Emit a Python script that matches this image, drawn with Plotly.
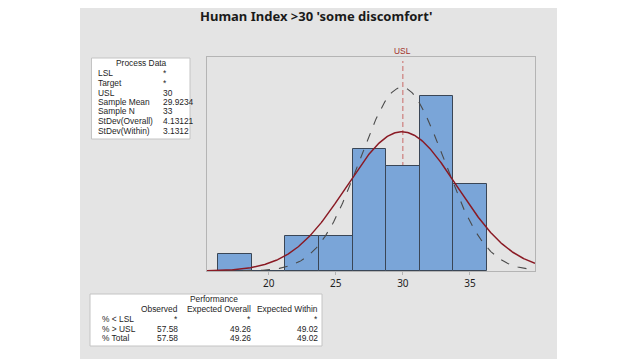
import numpy as np
import plotly.graph_objects as go

# ---- data ----
bin_centers = [17.5, 20.0, 22.5, 25.0, 27.5, 30.0, 32.5, 35.0]
bin_counts = [1, 0, 2, 2, 7, 6, 10, 5]
bin_width = 2.5
usl = 30
sample_mean = 29.9234
sample_n = 33
sd_overall = 4.13121
sd_within = 3.1312
x_ticks = [20, 25, 30, 35]

proc_labels = ["LSL", "Target", "USL", "Sample Mean", "Sample N", "StDev(Overall)", "StDev(Within)"]
proc_values = ["*", "*", "30", "29.9234", "33", "4.13121", "3.1312"]

perf_rows = ["% < LSL", "% > USL", "% Total"]
perf_observed = ["*", "57.58", "57.58"]
perf_exp_overall = ["*", "49.26", "49.26"]
perf_exp_within = ["*", "49.02", "49.02"]

# ---- layout geometry (target-image pixels) ----
W, H = 638, 359
OFF = 8  # page body margin
PL, PR, PT, PB = 207, 535, 57, 271
XMIN, XMAX = 15.4, 39.85
YMAX = 12.25

def fx(px):
    return (px - PL) / (PR - PL)

def fy(py):
    return (PB - py) / (PB - PT)

FONT = "Noto Sans"
SMALL = "Liberation Sans"
TXT = "#1e1e1e"

xs = np.linspace(XMIN, XMAX, 400)
scale = sample_n * bin_width

def npdf(x, m, s):
    return np.exp(-0.5 * ((x - m) / s) ** 2) / (s * np.sqrt(2 * np.pi))

fig = go.Figure()
fig.add_trace(go.Bar(
    x=bin_centers, y=bin_counts, width=bin_width,
    marker=dict(color="#7aa5d8", line=dict(color="#3a4656", width=1)),
    hoverinfo="skip", showlegend=False,
))
fig.add_trace(go.Scatter(
    x=xs, y=scale * npdf(xs, sample_mean, sd_within), mode="lines",
    line=dict(color="#4a4a4a", width=1.1, dash="dash"), showlegend=False, hoverinfo="skip",
))
fig.add_trace(go.Scatter(
    x=xs, y=scale * npdf(xs, sample_mean, sd_overall), mode="lines",
    line=dict(color="#8a1a24", width=1.5), showlegend=False, hoverinfo="skip",
))

shapes = []
shapes.append(dict(type="rect", xref="paper", yref="paper", x0=fx(80), x1=fx(557), y0=fy(H + 20), y1=fy(-20),
                   fillcolor="#e4e4e4", line=dict(width=0), layer="below"))
shapes.append(dict(type="line", xref="x", yref="paper", x0=usl, x1=usl, y0=0, y1=fy(61),
                   line=dict(color="#c96a66", width=1, dash="5px,3px"), layer="below"))
shapes.append(dict(type="rect", xref="paper", yref="paper", x0=fx(91.5), x1=fx(190), y0=fy(139), y1=fy(58),
                   fillcolor="white", line=dict(color="#c4c4c4", width=1), layer="above"))
shapes.append(dict(type="rect", xref="paper", yref="paper", x0=fx(90), x1=fx(322), y0=fy(346), y1=fy(294),
                   fillcolor="white", line=dict(color="#c4c4c4", width=1), layer="above"))

ann = []
def txt(px, py, s, anchor="left", size=8.4, color=TXT):
    ann.append(dict(xref="paper", yref="paper", x=fx(px), y=fy(py), text=s, showarrow=False,
                    xanchor=anchor, yanchor="middle", borderpad=0,
                    font=dict(family=SMALL, size=size, color=color)))

ann.append(dict(xref="paper", yref="paper", x=fx(316), y=fy(16), text="<b>Human Index >30 'some discomfort'</b>",
                showarrow=False, xanchor="center", yanchor="middle",
                font=dict(family=FONT, size=13, color="#1a1a1a")))
ann.append(dict(xref="x", yref="paper", x=usl, y=fy(51), text="USL", showarrow=False,
                xanchor="center", yanchor="middle", font=dict(family=SMALL, size=8.4, color="#a0302a")))

txt(141, 63, "Process Data", anchor="center")
row_y = [73, 83, 92.5, 102, 111.5, 121, 130.5]
for lab, val, y in zip(proc_labels, proc_values, row_y):
    txt(96.5, y, lab)
    txt(161.5, y, val)

PS = 8.4
txt(189, 299, "Performance", size=PS)
txt(179, 309, "Observed", anchor="right", size=PS)
txt(252, 309, "Expected Overall", anchor="right", size=PS)
txt(319, 309, "Expected Within", anchor="right", size=PS)
for i, (r, o, eo, ew) in enumerate(zip(perf_rows, perf_observed, perf_exp_overall, perf_exp_within)):
    y = [318.5, 328.5, 338][i]
    txt(101, y, r, size=PS)
    txt(179, y, o, anchor="right", size=PS)
    txt(252, y, eo, anchor="right", size=PS)
    txt(319, y, ew, anchor="right", size=PS)

FW, FH = W - OFF, H - OFF
fig.update_layout(
    width=FW, height=FH,
    margin=dict(l=PL - OFF, r=FW - (PR - OFF), t=PT - OFF, b=FH - (PB - OFF), pad=0),
    paper_bgcolor="white", plot_bgcolor="white",
    shapes=shapes, annotations=ann, bargap=0,
    xaxis=dict(range=[XMIN, XMAX], tickvals=x_ticks, showgrid=False, zeroline=False,
               showline=True, mirror=True, linecolor="#b4b4b4", linewidth=1,
               ticks="outside", ticklen=3, tickcolor="#b4b4b4",
               tickfont=dict(family=FONT, size=10, color=TXT)),
    yaxis=dict(range=[0, YMAX], showticklabels=False, showgrid=False, zeroline=False,
               showline=True, mirror=True, linecolor="#b4b4b4", linewidth=1, ticks=""),
)

fig.write_html("out.html")
